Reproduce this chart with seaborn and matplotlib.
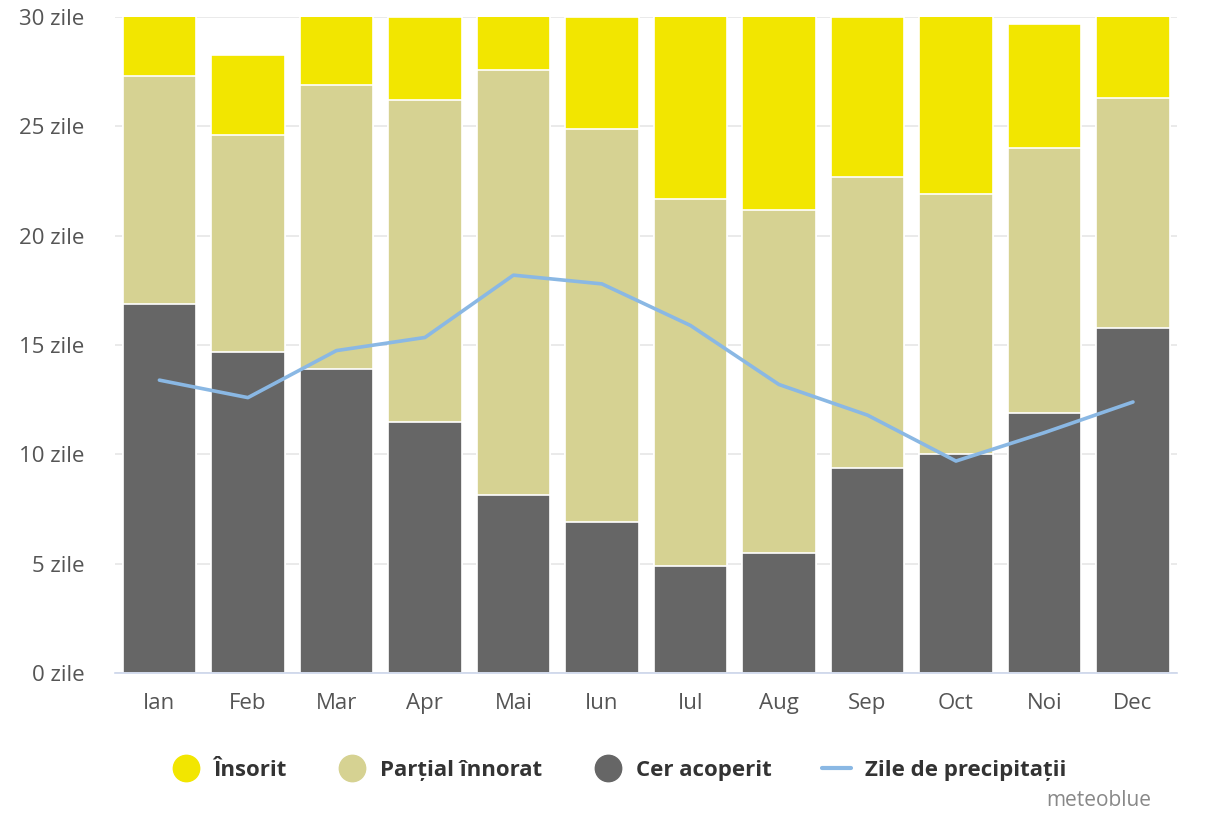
import numpy as np
import pandas as pd
import seaborn as sns
import matplotlib.pyplot as plt
from matplotlib.lines import Line2D

# monthly cloud / precipitation days
months = ['Ian', 'Feb', 'Mar', 'Apr', 'Mai', 'Iun', 'Iul', 'Aug', 'Sep', 'Oct', 'Noi', 'Dec']
overcast = [16.9, 14.7, 13.9, 11.5, 8.15, 6.9, 4.9, 5.5, 9.4, 10.0, 11.9, 15.8]
partly = [10.4, 9.9, 13.0, 14.7, 19.45, 18.0, 16.8, 15.7, 13.3, 11.9, 12.1, 10.5]
sunny = [3.7, 3.65, 4.1, 3.8, 3.4, 5.1, 9.3, 9.8, 7.3, 9.1, 5.7, 4.7]
precip = [13.4, 12.6, 14.75, 15.35, 18.2, 17.8, 15.9, 13.2, 11.8, 9.7, 11.0, 12.4]
yticks = [0, 5, 10, 15, 20, 25, 30]

df = pd.DataFrame({'month': months, 'overcast': overcast, 'partly': partly,
                   'sunny': sunny, 'precip': precip})
df['mid'] = df.overcast + df.partly
df['total'] = df.mid + df.sunny

sns.set_style('white')
plt.rcParams['font.family'] = ['Open Sans', 'DejaVu Sans']

fig = plt.figure(figsize=(12.25, 8.14), dpi=100)
ax = fig.add_axes([0.094, 0.173, 0.867, 0.806])

c_sun, c_part, c_over, c_line = '#f2e600', '#d6d292', '#666666', '#8ab8e4'

# stacked bars, drawn from the full total down
sns.barplot(data=df, x='month', y='total', color=c_sun, width=0.83, edgecolor='white',
            linewidth=1.2, saturation=1, ax=ax, zorder=2)
sns.barplot(data=df, x='month', y='mid', color=c_part, width=0.83, edgecolor='white',
            linewidth=1.2, saturation=1, ax=ax, zorder=3)
sns.barplot(data=df, x='month', y='overcast', color=c_over, width=0.83, edgecolor='white',
            linewidth=1.2, saturation=1, ax=ax, zorder=4)
sns.lineplot(x=np.arange(len(months)), y=df.precip, color=c_line, linewidth=2.6, ax=ax, zorder=5)

ax.set_ylim(0, 30)
ax.set_xlim(-0.5, len(months) - 0.5)
ax.set_yticks(yticks)
ax.set_yticklabels([f'{t} zile' for t in yticks])
ax.set_xlabel('')
ax.set_ylabel('')
ax.grid(axis='y', color='#e6e6e6', linewidth=1.2, zorder=0)
for s in ['top', 'right', 'left']:
    ax.spines[s].set_visible(False)
ax.spines['bottom'].set_color('#ccd6eb')
ax.spines['bottom'].set_linewidth(1.2)
ax.spines['bottom'].set_zorder(6)
ax.tick_params(axis='y', length=0, labelsize=16, labelcolor='#555555', pad=22)
ax.tick_params(axis='x', length=0, labelsize=16, labelcolor='#555555', pad=14)

handles = [
    Line2D([], [], marker='o', linestyle='', markersize=19, color=c_sun),
    Line2D([], [], marker='o', linestyle='', markersize=19, color=c_part),
    Line2D([], [], marker='o', linestyle='', markersize=19, color=c_over),
    Line2D([], [], color=c_line, linewidth=3),
]
labels = ['Însorit', 'Parțial înnorat', 'Cer acoperit', 'Zile de precipitații']
leg = fig.legend(handles, labels, loc='center', bbox_to_anchor=(0.505, 0.054), ncol=4,
                 frameon=False, handlelength=1.3, handletextpad=0.6, columnspacing=2.3,
                 prop={'weight': 'bold', 'size': 16})
for t in leg.get_texts():
    t.set_color('#333333')

fig.text(0.94, 0.004, 'meteoblue', ha='right', va='bottom', fontsize=15, color='#888888')

fig.savefig('out.png', dpi=100)
